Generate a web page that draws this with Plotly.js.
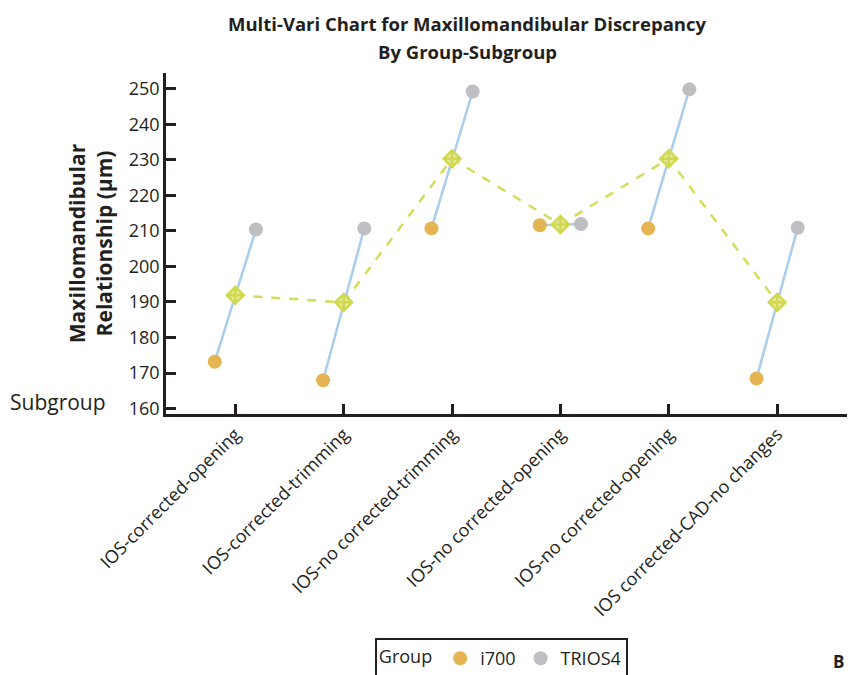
<!DOCTYPE html>
<html>
<head>
<meta charset="utf-8">
<script src="https://cdn.plot.ly/plotly-3.0.1.min.js"></script>
<style>html,body{margin:0;padding:0;background:#fff;}#chart{width:850px;height:675px;}</style>
</head>
<body>
<div id="chart"></div>
<script>
var subgroups = ["IOS-corrected-opening", "IOS-corrected-trimming", "IOS-no corrected-trimming",
                 "IOS-no corrected-opening", "IOS-no corrected-opening", "IOS corrected-CAD-no changes"];
var groups = ["i700", "TRIOS4"];
var i700 = [173.2, 168.0, 210.7, 211.6, 210.7, 168.5];
var trios4 = [210.4, 210.7, 249.2, 211.9, 249.8, 210.9];
var means = [191.9, 189.9, 230.3, 211.8, 230.3, 189.9];
var yTicks = [160, 170, 180, 190, 200, 210, 220, 230, 240, 250];
var titleLines = ["Multi-Vari Chart for Maxillomandibular Discrepancy", "By Group-Subgroup"];

var off = 0.19;
var pos = subgroups.map(function(_, i){ return i + 1; });
var lx = [], ly = [];
pos.forEach(function(p, i){ lx.push(p - off, p + off, null); ly.push(i700[i], trios4[i], null); });

var font = "Open Sans, sans-serif";
var dark = "#231F20";

var traces = [
  {x: lx, y: ly, mode: "lines", line: {color: "#A9CDEB", width: 2.5}, showlegend: false, hoverinfo: "skip"},
  {x: pos.map(function(p){return p - off;}), y: i700, mode: "markers", name: groups[0],
   marker: {color: "#E4B552", size: 14}},
  {x: pos.map(function(p){return p + off;}), y: trios4, mode: "markers", name: groups[1],
   marker: {color: "#BEBFC3", size: 14}},
  {x: pos, y: means, mode: "lines+markers", showlegend: false,
   line: {color: "#D4DC58", width: 2.5, dash: "dash"},
   marker: {symbol: "diamond-cross", size: 13, color: "#E6EA98", line: {color: "#CFD84E", width: 2.5}}}
];

var layout = {
  width: 850, height: 675,
  margin: {l: 166, r: 3, t: 73, b: 261},
  paper_bgcolor: "#fff", plot_bgcolor: "#fff",
  font: {family: font, color: dark, size: 18},
  xaxis: {range: [0.36, 6.645], tickvals: pos, ticktext: subgroups, tickangle: -45, automargin: false,
          showgrid: false, zeroline: false, showline: true, linecolor: dark, linewidth: 2.5,
          ticks: "inside", ticklen: 10, tickwidth: 2.5, tickcolor: dark,
          tickfont: {family: font, size: 18, color: dark}},
  yaxis: {range: [158.5, 254.4], tickvals: yTicks, showgrid: false, zeroline: false, automargin: false,
          showline: true, linecolor: dark, linewidth: 2.5,
          ticks: "inside", ticklen: 10, tickwidth: 2.5, tickcolor: dark,
          tickfont: {family: font, size: 18, color: dark},
          title: {text: "<b>Maxillomandibular<br>Relationship (µm)</b>", standoff: 11,
                  font: {family: font, size: 21, color: dark}}},
  showlegend: true,
  legend: {orientation: "h", xref: "container", yref: "container", x: 0.441, xanchor: "left",
           y: 0.0548, yanchor: "top",
           bordercolor: dark, borderwidth: 2, bgcolor: "#fff",
           title: {text: "Group", font: {family: font, size: 18, color: dark}},
           font: {family: font, size: 18, color: dark}, itemwidth: 30},
  annotations: [
    {text: "<b>" + titleLines[0] + "</b>", xref: "paper", yref: "paper", x: 0.4427, y: 1.1466,
     xanchor: "center", yanchor: "middle", showarrow: false, font: {family: font, size: 18.5, color: dark}},
    {text: "<b>" + titleLines[1] + "</b>", xref: "paper", yref: "paper", x: 0.4427, y: 1.0616,
     xanchor: "center", yanchor: "middle", showarrow: false, font: {family: font, size: 18.5, color: dark}},
    {text: "Subgroup", xref: "paper", yref: "paper", x: -0.085, y: 0.035, xanchor: "right", yanchor: "middle",
     showarrow: false, font: {family: font, size: 21, color: dark}},
    {text: "<b>B</b>", xref: "paper", yref: "paper", x: 0.997, y: -0.69, xanchor: "right", yanchor: "top",
     borderpad: 0, showarrow: false, font: {family: font, size: 17, color: dark}}
  ]
};

Plotly.newPlot("chart", traces, layout, {displayModeBar: false});
</script>
</body>
</html>
